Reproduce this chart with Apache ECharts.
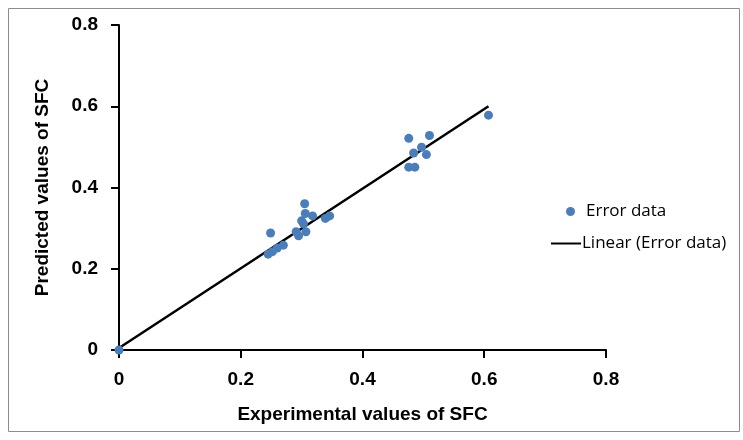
<!DOCTYPE html>
<html><head><meta charset="utf-8">
<script src="https://cdn.jsdelivr.net/npm/echarts@6/dist/echarts.min.js"></script>
<style>html,body{margin:0;padding:0;background:#fff}#c{width:743px;height:440px}</style>
</head><body><div id="c"></div>
<script>
const xValues = [0, 0.249, 0.305, 0.306, 0.318, 0.300, 0.303, 0.291, 0.295, 0.307, 0.270, 0.260, 0.252, 0.245, 0.339, 0.346, 0.476, 0.510, 0.607, 0.497, 0.484, 0.505, 0.476, 0.486];
const yValues = [0, 0.288, 0.360, 0.336, 0.330, 0.318, 0.311, 0.291, 0.281, 0.291, 0.258, 0.251, 0.242, 0.236, 0.324, 0.330, 0.521, 0.528, 0.578, 0.499, 0.485, 0.481, 0.450, 0.450];
const trendX = [0, 0.607];
const trendY = [0.005, 0.600];
const tickLabels = ['0', '0.2', '0.4', '0.6', '0.8'];

const chart = echarts.init(document.getElementById('c'));
const fmt = v => { const i = Math.round(v / 0.2); return tickLabels[i] !== undefined ? tickLabels[i] : String(v); };
const axisCommon = {
  min: 0, max: 0.8, interval: 0.2,
  nameLocation: 'middle',
  nameTextStyle: { fontFamily: 'Liberation Sans', fontWeight: 'bold', fontSize: 19, color: '#000' },
  axisLine: { show: true, onZero: false, lineStyle: { color: '#000', width: 2 } },
  axisTick: { show: true, inside: false, length: 8, lineStyle: { color: '#000', width: 2 } },
  axisLabel: { fontFamily: 'Liberation Sans', fontWeight: 'bold', fontSize: 19, color: '#000', formatter: fmt },
  splitLine: { show: false }
};
chart.setOption({
  animation: false,
  grid: { left: 119, right: 137, top: 25, bottom: 90 },
  xAxis: Object.assign({}, axisCommon, { type: 'value', name: 'Experimental values of SFC', nameGap: 55, axisLabel: Object.assign({}, axisCommon.axisLabel, { margin: 20 }) }),
  yAxis: Object.assign({}, axisCommon, { type: 'value', name: 'Predicted values of SFC', nameGap: 67, axisLabel: Object.assign({}, axisCommon.axisLabel, { margin: 21 }) }),
  legend: [
    { data: ['Error data'], left: 561, top: 198, icon: 'circle', itemWidth: 9, itemHeight: 9, itemGap: 8,
      textStyle: { fontFamily: 'Open Sans', fontSize: 17, color: '#000', padding: [0, 0, 0, 6] } },
    { data: ['Linear (Error data)'], left: 546, top: 230, icon: 'path://M0,0 L30,0 L30,2 L0,2 Z', itemWidth: 30, itemHeight: 2,
      textStyle: { fontFamily: 'Open Sans', fontSize: 17, color: '#000', padding: [0, 0, 0, -4] } }
  ],
  graphic: [{ type: 'rect', shape: { x: 8.5, y: 8.5, width: 731, height: 423 }, style: { fill: null, stroke: '#8c8c8c', lineWidth: 1 }, silent: true }],
  series: [
    { name: 'Linear (Error data)', type: 'line', data: trendX.map((x, i) => [x, trendY[i]]), showSymbol: false, symbol: 'none',
      lineStyle: { color: '#000', width: 2.5 }, itemStyle: { color: '#000' }, z: 2 },
    { name: 'Error data', type: 'scatter', data: xValues.map((x, i) => [x, yValues[i]]), symbolSize: 9,
      itemStyle: { color: '#4a7ebb', opacity: 1 }, z: 3 }
  ]
});
</script></body></html>
